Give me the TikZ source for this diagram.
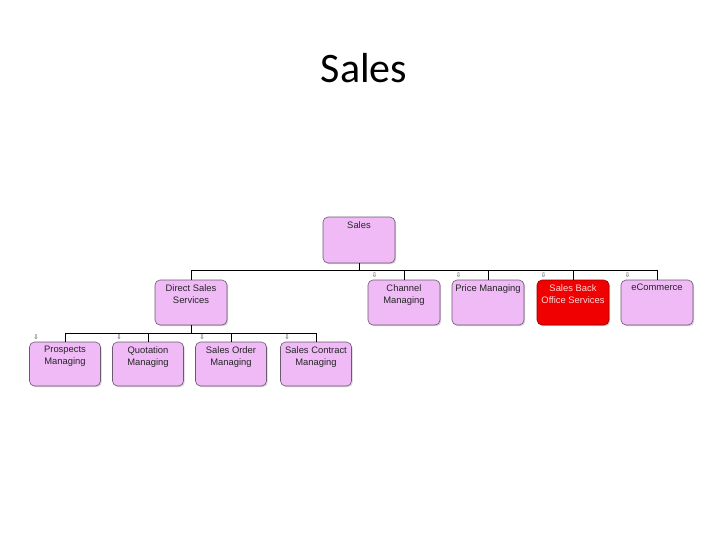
\documentclass[tikz,border=0pt]{standalone}
\usepackage{fontspec}
\setmainfont{Liberation Sans}
\newfontfamily\titlefont{Carlito}
\newfontfamily\iconfont{DejaVu Sans}
\usetikzlibrary{shadows}

\definecolor{boxpink}{RGB}{239,186,246}
\definecolor{boxred}{RGB}{240,0,0}
\definecolor{boxedge}{RGB}{105,90,110}

\tikzset{
  unit/.style={draw=boxedge, fill=boxpink, rounded corners=5pt,
    minimum width=72pt, minimum height=45pt, inner sep=0pt, line width=0.6pt,
    drop shadow={shadow xshift=1.2pt, shadow yshift=-1.2pt, opacity=0.35}},
  hot/.style={unit, fill=boxred, draw=red!60!black},
  small/.style={minimum width=71pt, minimum height=44pt},
  % text sits at the top of each box
  ulabel/.style={label={[anchor=north, yshift=-1pt, align=center,
    font=\fontsize{9.4}{12}\selectfont, text=black!85]north:{#1}}},
  hlabel/.style={label={[anchor=north, yshift=-1pt, align=center,
    font=\fontsize{9.4}{12}\selectfont, text=white!85!red]north:{#1}}},
  % little marker over the top left corner
  marked/.style={label={[anchor=center, xshift=7pt, yshift=4pt, inner sep=0pt,
    font=\iconfont\fontsize{6.5}{6.5}\selectfont, text=boxedge!60!black]north west:⇩}},
  wire/.style={draw=black, line width=0.8pt},
}

\begin{document}
\begin{tikzpicture}[x=1pt, y=-1pt]
\useasboundingbox (0,0) rectangle (728,546);

\node[anchor=base, font=\titlefont\fontsize{42}{46}\selectfont] (title) at (364,82) {Sales};

% top level
\node[unit, minimum height=46pt, ulabel={Sales}] (sales) at (359,240) {};

% second row
\node[unit, ulabel={Direct Sales\\Services}] (direct) at (191,302.5) {};
\node[unit, marked, ulabel={Channel\\Managing}] (channel) at (404,302.5) {};
\node[unit, marked, ulabel={Price Managing}] (price) at (488,302.5) {};
\node[hot, marked, hlabel={Sales Back\\Office Services}] (backoffice) at (573,302.5) {};
\node[unit, marked, ulabel={eCommerce}] (ecom) at (657,302.5) {};

% third row
\node[unit, small, marked, ulabel={Prospects\\Managing}] (prospects) at (65,364) {};
\node[unit, small, marked, ulabel={Quotation\\Managing}] (quotation) at (148,364) {};
\node[unit, small, marked, ulabel={Sales Order\\Managing}] (order) at (231,364) {};
\node[unit, small, marked, ulabel={Sales Contract\\Managing}] (contract) at (316,364) {};

% connectors
\foreach \c in {direct,channel,price,backoffice,ecom}
  \draw[wire] (sales.south) -- ++(0,7) -| (\c.north);
\foreach \c in {prospects,quotation,order,contract}
  \draw[wire] (direct.south) -- ++(0,8) -| (\c.north);
\end{tikzpicture}
\end{document}
